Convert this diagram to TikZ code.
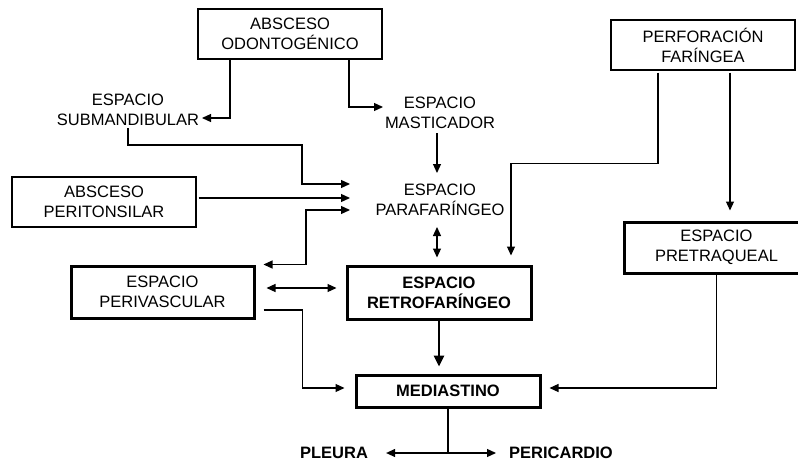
\documentclass[tikz,border=0pt]{standalone}
\usepackage{fontspec}
\setmainfont{Liberation Sans}
\usetikzlibrary{arrows.meta,calc}
\begin{document}
\begin{tikzpicture}[x=1pt,y=-1pt,
  every node/.style={font=\fontsize{16.5}{20}\selectfont, align=center},
  thinbox/.style={draw, line width=1.2pt, minimum width=184pt, minimum height=50pt, inner sep=0pt},
  thickbox/.style={draw, line width=3pt, minimum width=184pt, inner sep=0pt},
  freetext/.style={inner sep=0pt},
  boldtext/.style={inner sep=0pt, font=\fontsize{16.5}{20}\selectfont\bfseries},
  conn/.style={line width=1.2pt, -{Triangle[length=9pt,width=8pt]}},
  bconn/.style={line width=1.2pt, {Triangle[length=9pt,width=8pt]}-{Triangle[length=9pt,width=8pt]}},
  plain/.style={line width=1.2pt},
  heavy/.style={line width=2.6pt, -{Triangle[length=11pt,width=10pt]}}
]
\useasboundingbox (0,0) rectangle (798,466);
\clip (0,0) rectangle (798,466);

% boxes
\node[thinbox] (odo) at (290,34) {ABSCESO\\ODONTOGÉNICO};
\node[thinbox] (perf) at (703,45) {PERFORACIÓN\\FARÍNGEA};
\node[thinbox] (peri) at (104,202) {ABSCESO\\PERITONSILAR};
\node[thickbox, minimum width=183pt, minimum height=52pt] (periv) at (162.5,292) {ESPACIO\\PERIVASCULAR};
\node[thickbox, minimum width=184pt, minimum height=53pt, font=\fontsize{16.5}{20}\selectfont\bfseries] (retro) at (439,292.5) {ESPACIO\\RETROFARÍNGEO};
\node[thickbox, minimum width=184pt, minimum height=51pt] (pretr) at (716.5,247.5) {ESPACIO\\PRETRAQUEAL};
\node[thickbox, minimum width=184pt, minimum height=32pt, font=\fontsize{16.5}{20}\selectfont\bfseries] (medi) at (448,391) {MEDIASTINO};

% free texts
\node[freetext] (subm) at (128,110) {ESPACIO\\SUBMANDIBULAR};
\node[freetext] (mast) at (440,113) {ESPACIO\\MASTICADOR};
\node[freetext] (para) at (440,200) {ESPACIO\\PARAFARÍNGEO};
\node[boldtext] (pleura) at (334,453) {PLEURA};
\node[boldtext] (peric) at (561,453) {PERICARDIO};

% connectors
\draw[conn] ($(odo.south)+(-60,0)$) |- ($(subm)+(74,8)$);
\draw[conn] ($(odo.south)+(59,0)$) |- ($(mast)+(-57,-6)$);
\draw[conn] ($(mast)+(-3,20)$) -- ($(para)+(-3,-27)$);
\draw[conn] ($(subm)+(0,18)$) |- ++(174,17) |- ($(para)+(-90,-16)$);
\draw[conn] ($(peri.east)+(2,-4)$) -- ($(para)+(-90,-2)$);
\draw[bconn] ($(periv.north east)+(8,0)$) -| ($(para)+(-134,10)$) -- ($(para)+(-90,10)$);
\draw[bconn] ($(para)+(-3,27)$) -- ($(retro.north)+(-2,-7)$);
\draw[conn] ($(perf.south)+(-45,2)$) |- ($(perf.south)+(-192,93)$) -- ($(retro.north)+(72,-9)$);
\draw[conn] ($(perf.south)+(27,2)$) -- ($(pretr.north)+(13.5,-10)$);
\draw[bconn] ($(periv.east)+(11,-4)$) -- ($(retro.west)+(-9,-4.5)$);
\draw[conn] ($(periv.east)+(8,18)$) -| ($(medi.west)+(-52,-3)$) -- ($(medi.west)+(-10,-3)$);
\draw[heavy] (retro.south) -- ($(retro.south |- medi.north)+(0,-7)$);
\draw[conn] (pretr.south) |- ($(medi.east)+(8,-3)$);
\draw[plain] (medi.south) -- (medi.south |- pleura);
\draw[bconn] ($(pleura.east)+(18,0)$) -- ($(peric.west)+(-13,0)$);
\end{tikzpicture}
\end{document}
